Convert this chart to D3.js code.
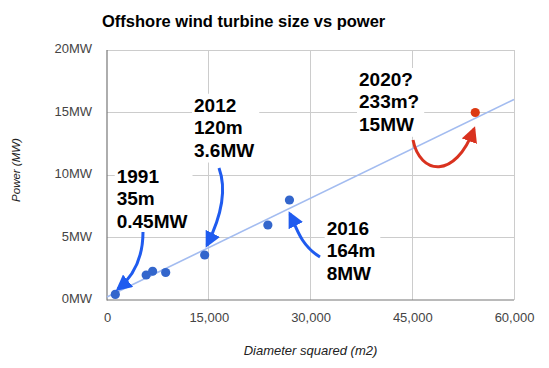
<!DOCTYPE html>
<html>
<head>
<meta charset="utf-8">
<script src="https://cdn.jsdelivr.net/npm/d3@7"></script>
<style>
  html, body { margin: 0; padding: 0; background: #fff; }
  svg { display: block; font-family: Arial, "Liberation Sans", Helvetica, sans-serif; }
</style>
</head>
<body>
<svg id="chart" width="549" height="368"></svg>
<script>
// ---- data ----
const diameterSquared = [1225, 5776, 6724, 8649, 14400, 23716, 26896];   // m2
const powerMW         = [0.45, 2.0, 2.3, 2.2, 3.6, 6.0, 8.0];
const futureX = [54289];
const futureY = [15];
const trendX = [0, 60000];
const trendY = [0.24, 16.04];
const xTicks = [0, 15000, 30000, 45000, 60000];
const yTicks = [0, 5, 10, 15, 20];
const titleText = "Offshore wind turbine size vs power";
const xTitle = "Diameter squared (m2)";
const yTitle = "Power (MW)";

// annotations (in data units)
const annotations = [
  { lines: ["1991", "35m", "0.45MW"], at: [1430, 9.38], color: "#1f5bef",
    arrow: [[5307, 5.44], [5307, 3.6], [4128, 2.0], [1622, 0.88]] },
  { lines: ["2012", "120m", "3.6MW"], at: [12826, 15.06], color: "#1f5bef",
    arrow: [[16511, 10.56], [17690, 8.8], [16953, 6.8], [14742, 4.4]] },
  { lines: ["2016", "164m", "8MW"], at: [32389, 5.2], color: "#1f5bef",
    arrow: [[31400, 3.44], [28452, 4.4], [27862, 5.92], [26978, 6.88]] },
  { lines: ["2020?", "233m?", "15MW"], at: [37150, 17.12], color: "#d9321f",
    arrow: [[45111, 12.8], [46143, 10.0], [51302, 9.6], [54103, 13.68]] }
];

// ---- layout ----
const svg = d3.select("#chart");
const m = { left: 107, right: 514, top: 50, bottom: 300 };
const x = d3.scaleLinear().domain([0, 60000]).range([m.left, m.right]);
const y = d3.scaleLinear().domain([0, 20]).range([m.bottom, m.top]);

// title
svg.append("text").attr("x", 102).attr("y", 27)
  .attr("font-size", 16.5).attr("font-weight", "bold").attr("fill", "#000")
  .text(titleText);

// grid
const grid = svg.append("g");
grid.selectAll(".vg").data(xTicks.filter(d => d > 0)).enter().append("line")
  .attr("x1", d => x(d)).attr("x2", d => x(d))
  .attr("y1", m.top).attr("y2", m.bottom)
  .attr("stroke", "#cccccc").attr("stroke-width", 1).attr("shape-rendering", "crispEdges");
grid.selectAll(".hg").data(yTicks.filter(d => d > 0)).enter().append("line")
  .attr("x1", m.left).attr("x2", m.right)
  .attr("y1", d => y(d)).attr("y2", d => y(d))
  .attr("stroke", "#cccccc").attr("stroke-width", 1).attr("shape-rendering", "crispEdges");

// axes via d3
const xAxis = d3.axisBottom(x).tickValues(xTicks).tickSize(0).tickPadding(13)
  .tickFormat(d3.format(","));
const gx = svg.append("g").attr("transform", `translate(0,${m.bottom})`).call(xAxis);
gx.select(".domain").remove();
gx.selectAll("text").attr("font-size", 13).attr("fill", "#444")
  .attr("font-family", "Arial, 'Liberation Sans', sans-serif");

const yAxis = d3.axisLeft(y).tickValues(yTicks).tickSize(0).tickPadding(15)
  .tickFormat(d => d + "MW");
const gy = svg.append("g").attr("transform", `translate(${m.left},0)`).call(yAxis);
gy.select(".domain").remove();
gy.selectAll("text").attr("font-size", 13).attr("fill", "#444").attr("dy", "0.22em")
  .attr("font-family", "Arial, 'Liberation Sans', sans-serif");

// baselines
svg.append("line").attr("x1", m.left).attr("x2", m.left).attr("y1", m.top).attr("y2", m.bottom + 0.5)
  .attr("stroke", "#777").attr("stroke-width", 1.2);
svg.append("line").attr("x1", m.left).attr("x2", m.right).attr("y1", m.bottom).attr("y2", m.bottom)
  .attr("stroke", "#777").attr("stroke-width", 1.2);

// axis titles
svg.append("text").attr("x", x(30000)).attr("y", 355)
  .attr("text-anchor", "middle").attr("font-size", 13).attr("font-style", "italic").attr("fill", "#222")
  .text(xTitle);
svg.append("text").attr("transform", "translate(20,170) rotate(-90)")
  .attr("text-anchor", "middle").attr("font-size", 11.5).attr("font-style", "italic").attr("fill", "#222")
  .text(yTitle);

// trendline
const trend = trendX.map((d, i) => [d, trendY[i]]);
svg.append("path").datum(trend)
  .attr("d", d3.line().x(d => x(d[0])).y(d => y(d[1])))
  .attr("fill", "none").attr("stroke", "#a3bcf0").attr("stroke-width", 1.6);

// points
const pts = diameterSquared.map((d, i) => [d, powerMW[i]]);
svg.append("g").selectAll("circle").data(pts).enter().append("circle")
  .attr("cx", d => x(d[0])).attr("cy", d => y(d[1])).attr("r", 4.6)
  .attr("fill", "#3366cc");
const fpts = futureX.map((d, i) => [d, futureY[i]]);
svg.append("g").selectAll("circle").data(fpts).enter().append("circle")
  .attr("cx", d => x(d[0])).attr("cy", d => y(d[1])).attr("r", 4.6)
  .attr("fill", "#dc3912");

// arrow markers
const defs = svg.append("defs");
const colors = Array.from(new Set(annotations.map(a => a.color)));
colors.forEach((c, i) => {
  defs.append("marker").attr("id", "ah" + i)
    .attr("viewBox", "0 0 16 16").attr("markerUnits", "userSpaceOnUse")
    .attr("markerWidth", 16).attr("markerHeight", 16)
    .attr("refX", 13).attr("refY", 8).attr("orient", "auto")
    .append("path").attr("d", "M0,0 L16,8 L0,16 Z").attr("fill", c);
});

// annotation labels with white boxes
const fs = 19, lh = 22.4;
annotations.forEach(a => {
  const g = svg.append("g");
  const rect = g.append("rect").attr("fill", "#fff");
  const t = g.append("text").attr("x", x(a.at[0])).attr("y", y(a.at[1]))
    .attr("font-size", fs).attr("font-weight", "bold").attr("fill", "#000");
  a.lines.forEach((l, i) => {
    t.append("tspan").attr("x", x(a.at[0])).attr("dy", i === 0 ? 0 : lh).text(l);
  });
  const bb = t.node().getBBox();
  rect.attr("x", bb.x - 2).attr("y", bb.y - 1).attr("width", bb.width + 7).attr("height", bb.height + 3);
});

// arrows
annotations.forEach(a => {
  const p = a.arrow.map(d => [x(d[0]), y(d[1])]);
  const path = d3.path();
  path.moveTo(p[0][0], p[0][1]);
  path.bezierCurveTo(p[1][0], p[1][1], p[2][0], p[2][1], p[3][0], p[3][1]);
  svg.append("path").attr("d", path.toString())
    .attr("fill", "none").attr("stroke", a.color).attr("stroke-width", 3)
    .attr("marker-end", `url(#ah${colors.indexOf(a.color)})`);
});
</script>
</body>
</html>
